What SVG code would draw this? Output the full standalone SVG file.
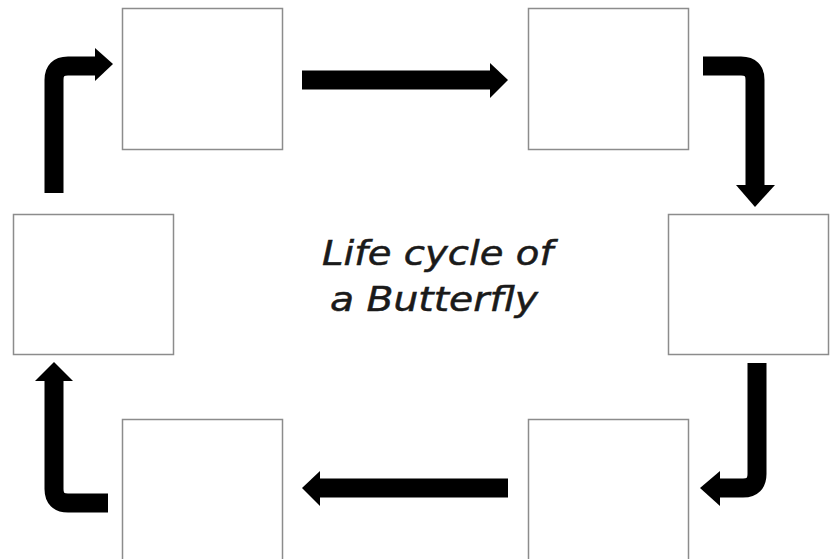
<svg xmlns="http://www.w3.org/2000/svg" width="831" height="559" viewBox="0 0 831 559">
<style>
.box{fill:#fff;stroke:#8c8c8c;stroke-width:1.5}
.shaft{fill:none;stroke:#000;stroke-width:19}
.head{fill:#000}
.title{font-family:"DejaVu Sans",sans-serif;font-style:italic;font-size:33px;fill:#1a1a1a;stroke:#1a1a1a;stroke-width:0.5}
</style>
<rect width="831" height="559" fill="#fff"/>
<g id="node-top-left"><rect class="box" x="122.5" y="8.5" width="160" height="141"/></g>
<g id="node-top-right"><rect class="box" x="528.5" y="8.5" width="160" height="141"/></g>
<g id="node-left"><rect class="box" x="13.5" y="214.5" width="160" height="140"/></g>
<g id="node-right"><rect class="box" x="668.5" y="214.5" width="160" height="140"/></g>
<g id="node-bottom-left"><rect class="box" x="122.5" y="419.5" width="160" height="145"/></g>
<g id="node-bottom-right"><rect class="box" x="528.5" y="419.5" width="160" height="145"/></g>
<g id="title">
<text class="title" x="322" y="265" textLength="231" lengthAdjust="spacingAndGlyphs">Life cycle of</text>
<text class="title" x="330" y="311" textLength="208" lengthAdjust="spacingAndGlyphs">a Butterfly</text>
</g>
<g id="connectors">
<path class="shaft" d="M302,80 H492"/>
<polygon class="head" points="490,63 508,80 490,98"/>
<path class="shaft" d="M703,66 H741 Q755,66 755,80 V187"/>
<polygon class="head" points="736,185 775,185 755,207"/>
<path class="shaft" d="M757,363 V474 Q757,488 743,488 H718"/>
<polygon class="head" points="720,471 700,488 720,506"/>
<path class="shaft" d="M508,488 H318"/>
<polygon class="head" points="320,471 302,488 320,506"/>
<path class="shaft" d="M108,503 H68 Q54,503 54,489 V378"/>
<polygon class="head" points="35,381 54,362 73,381"/>
<path class="shaft" d="M54,193 V80 Q54,66 68,66 H97"/>
<polygon class="head" points="95,48 113,64 95,81"/>
</g>
</svg>
